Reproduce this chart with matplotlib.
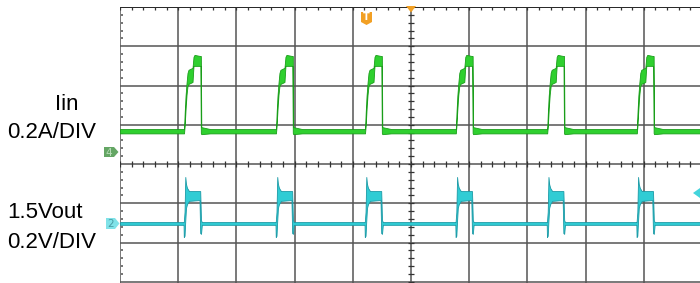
import matplotlib
matplotlib.use("Agg")
import matplotlib.pyplot as plt
import numpy as np
from matplotlib.collections import LineCollection
from matplotlib.patches import Polygon

# ---------------- data (screen divisions) ----------------
pulse_starts = [1.10, 2.68, 4.21, 5.77, 7.34, 8.88]

# Iin (green) envelope for one pulse, offsets from pulse start
green_t  = [-0.020, 0.000, 0.012, 0.026, 0.043, 0.060, 0.077, 0.146, 0.163, 0.180, 0.280, 0.289, 0.297, 0.450]
green_lo = [0.78, 0.78, 0.99, 1.38, 1.76, 1.99, 2.04, 2.09, 2.50, 2.50, 2.50, 0.79, 0.76, 0.78]
green_hi = [0.89, 0.89, 1.32, 1.73, 2.06, 2.32, 2.40, 2.45, 2.73, 2.78, 2.75, 2.75, 0.94, 0.89]
green_base = [0.78, 0.89]

# 1.5Vout (cyan) envelope for one pulse
cyan_t  = [-0.020, -0.008, -0.004, 0.009, 0.022, 0.034, 0.052, 0.086, 0.266, 0.278, 0.292, 0.306]
cyan_lo = [-1.55, -1.55, -1.86, -1.83, -1.43, -1.12, -1.02, -0.94, -0.92, -1.76, -1.78, -1.55]
cyan_hi = [-1.48, -1.48, -1.48, -1.22, -0.33, -0.51, -0.61, -0.69, -0.69, -0.69, -1.43, -1.48]
cyan_base = [-1.55, -1.48]

labels = ["Iin", "0.2A/DIV", "1.5Vout", "0.2V/DIV"]

W, H = 700, 283
fig = plt.figure(figsize=(W / 100, H / 100), dpi=100)
fig.patch.set_facecolor("white")

def fx(x):
    return x / W

def fy(y):
    return 1 - y / H

ax = fig.add_axes([fx(120), fy(321), fx(702) - fx(120), fy(7) - fy(321)])
ax.set_xlim(0, 10)
ax.set_ylim(-4, 4)
ax.axis("off")

# ---------------- grid ----------------
gc = "#555555"
for i in range(11):
    ax.axvline(i, color=gc, lw=1.1, zorder=1)
for j in range(-4, 5):
    ax.axhline(j, color=gc, lw=1.1, zorder=1)
ax.axhline(4, color="#222222", lw=1.3, zorder=1)

segs = []
for k in range(51):
    x = k * 0.2
    segs.append([(x, -0.08), (x, 0.08)])
    segs.append([(x, 4.0), (x, 3.92)])
for k in range(-20, 21):
    y = k * 0.2
    segs.append([(4.95, y), (5.05, y)])
ax.add_collection(LineCollection(segs, colors="#333333", linewidths=0.9, zorder=2))
dots_y = [k * 0.2 for k in range(-20, 21) if k % 5 != 0]
ax.scatter([0.035] * len(dots_y), dots_y, s=0.6, color="#777777", zorder=2, marker="s",
           linewidths=0)

# ---------------- traces ----------------
def build(t_off, lo, hi, base):
    xs, los, his = [0.0], [base[0]], [base[1]]
    for p in pulse_starts:
        for t, l, h in zip(t_off, lo, hi):
            xs.append(p + t)
            los.append(l)
            his.append(h)
    xs.append(10.0)
    los.append(base[0])
    his.append(base[1])
    return np.array(xs), np.array(los), np.array(his)

gx, glo, ghi = build(green_t, green_lo, green_hi, green_base)
ax.fill_between(gx, glo, ghi, facecolor="#2fd02f", edgecolor="#1a9e1a", lw=0.6, zorder=4)

cx, clo, chi = build(cyan_t, cyan_lo, cyan_hi, cyan_base)
ax.fill_between(cx, clo, chi, facecolor="#30ccd4", edgecolor="#1b9aa6", lw=0.6, zorder=4)

# ---------------- markers ----------------
def poly(pts, color, z=6):
    fig.add_artist(Polygon([(fx(x), fy(y)) for x, y in pts], closed=True,
                           facecolor=color, edgecolor="none", zorder=z,
                           transform=fig.transFigure))

poly([(104, 147), (114, 147), (118.5, 152), (114, 157), (104, 157)], "#64a664")
fig.text(fx(109), fy(152.5), "4", color="#b8dcb8", fontsize=7.5, ha="center", va="center",
         family="DejaVu Sans", zorder=7)
poly([(106, 218), (115, 218), (119.5, 223.5), (115, 229), (106, 229)], "#80e2e8")
fig.text(fx(111), fy(223.8), "2", color="#4a9ca4", fontsize=7.5, ha="center", va="center",
         family="DejaVu Sans", zorder=7)

poly([(361, 12), (372, 12), (372, 22), (366.5, 25), (361, 22)], "#f2a024")
fig.text(fx(366.5), fy(17.5), "T", color="white", fontsize=7, fontweight="bold",
         ha="center", va="center", family="DejaVu Sans", zorder=7)
poly([(406, 6), (416, 6), (411, 12.5)], "#f2a024")
poly([(693, 193), (700, 188), (700, 198)], "#44d4dc")

# ---------------- labels ----------------
font = "Liberation Sans"
fig.text(fx(55), fy(110), labels[0], fontsize=16, family=font, va="baseline", ha="left")
fig.text(fx(7), fy(138), labels[1], fontsize=16, family=font, va="baseline", ha="left")
fig.text(fx(7), fy(218), labels[2], fontsize=16, family=font, va="baseline", ha="left")
fig.text(fx(7), fy(248), labels[3], fontsize=16, family=font, va="baseline", ha="left")

fig.savefig("out.png", dpi=100, facecolor="white")
